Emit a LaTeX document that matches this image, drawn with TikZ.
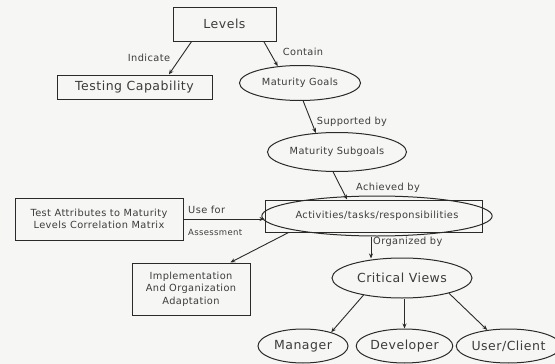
\documentclass[tikz,border=0pt]{standalone}
\usepackage{fontspec}
\setmainfont{DejaVu Sans}
\newfontfamily\spaced[LetterSpace=4]{DejaVu Sans}
\usetikzlibrary{shapes.geometric,arrows.meta,calc}
\definecolor{ink}{HTML}{2A2A2A}
\definecolor{txt}{HTML}{3C3C3C}
\definecolor{paper}{HTML}{F6F6F4}
\tikzset{
  boxnode/.style={draw=ink,line width=1pt,rectangle,inner sep=0pt,text=txt,align=center},
  ovalnode/.style={draw=ink,line width=1pt,ellipse,inner sep=0pt,text=txt,align=center},
  big/.style={font=\spaced\fontsize{12.5}{14}\selectfont},
  small/.style={font=\spaced\fontsize{9.8}{12.5}\selectfont},
  lbl/.style={text=txt,inner sep=0pt,font=\spaced\fontsize{9.8}{12}\selectfont},
  arr/.style={draw=ink,line width=0.9pt,-{Stealth[length=5pt,width=4pt]}},
}
\begin{document}
\begin{tikzpicture}[x=1pt,y=-1pt]
\fill[paper] (0,0) rectangle (555,364);
\useasboundingbox (0,0) rectangle (555,364);
% nodes
\node[boxnode,big,minimum width=103pt,minimum height=34pt] (levels) at (224.5,24) {Levels};
\node[boxnode,big,minimum width=155pt,minimum height=24pt] (testcap) at (134.5,87) {Testing Capability};
\node[ovalnode,small,minimum width=121pt,minimum height=35pt] (mg) at (300,83) {Maturity Goals};
\node[ovalnode,small,minimum width=139pt,minimum height=39pt] (sg) at (337,152) {Maturity Subgoals};
\node[boxnode,minimum width=217pt,minimum height=32pt] (actbox) at (373.5,216) {};
\node[ovalnode,small,minimum width=181pt,minimum height=40pt] (act) at (377,216) {Activities/tasks/responsibilities};
\node[boxnode,small,minimum width=168pt,minimum height=42pt] (testattr) at (99,219) {Test Attributes to Maturity\\Levels Correlation Matrix};
\node[boxnode,small,minimum width=118pt,minimum height=52pt] (impl) at (191,289) {Implementation\\And Organization\\Adaptation};
\node[ovalnode,big,minimum width=140pt,minimum height=40pt] (crit) at (402,278) {Critical Views};
\node[ovalnode,big,minimum width=90pt,minimum height=34pt] (man) at (303,346) {Manager};
\node[ovalnode,big,minimum width=86pt,minimum height=34pt] (dev) at (404.5,346) {Developer};
\node[ovalnode,big,minimum width=86pt,minimum height=34pt] (user) at (508.5,346) {User/Client};
% connectors
\draw[arr] (levels.-152) -- (testcap.20);
\draw[arr] (levels.-24) -- (mg.143);
\draw[arr] (mg.-80) -- (sg.138);
\draw[arr] (sg.-101) -- (actbox.148);
\draw[arr] (testattr.east) -- (testattr.east -| actbox.west);
\draw[arr] (actbox.191) -- (impl.34);
\draw[arr] ([xshift=-6pt]act.south) -- ([xshift=-31pt,yshift=-1pt]crit.north);
\draw[arr] (crit.204) -- (man.26);
\draw[arr] (dev.north |- crit.south) -- (dev.north);
\draw[arr] (crit.-18) -- (user.143);
% labels
\node[lbl] (l1) at (149,58) {Indicate};
\node[lbl] (l2) at (303,52) {Contain};
\node[lbl] (l3) at (352,122) {Supported by};
\node[lbl] (l4) at (388,188) {Achieved by};
\node[lbl,anchor=west] (l5) at (188,210) {Use for};
\node[lbl,anchor=west,font=\spaced\fontsize{8.5}{10}\selectfont] (l6) at (188,232) {Assessment};
\node[lbl,anchor=west] (l7) at (373,242) {Organized by};
\end{tikzpicture}
\end{document}
